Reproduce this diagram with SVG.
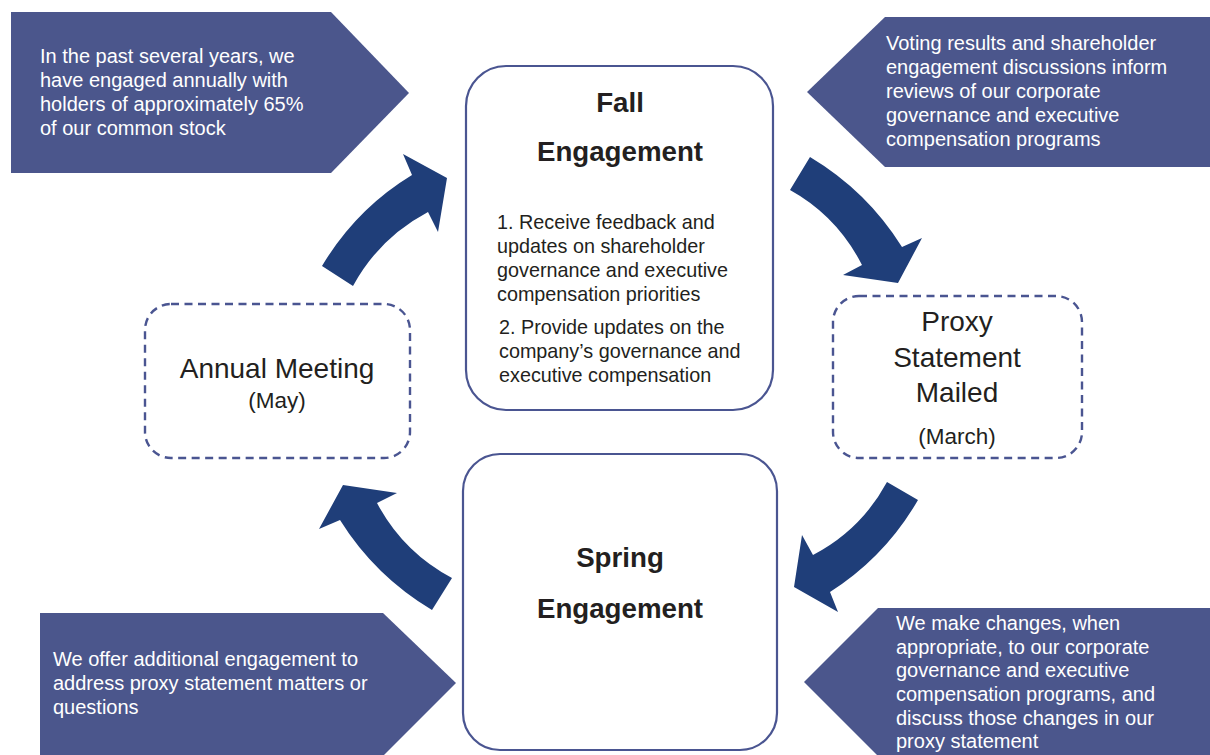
<svg xmlns="http://www.w3.org/2000/svg" width="1210" height="755" viewBox="0 0 1210 755">
  <style>
    .callout { fill: #4b568c; }
    .callout-text { fill: #ffffff; font-family: "Liberation Sans", Arial, sans-serif; font-size: 20px; }
    .stage { fill: #ffffff; stroke: #4a5591; stroke-width: 2.2; }
    .milestone { fill: #ffffff; stroke: #4a5591; stroke-width: 2.4; stroke-dasharray: 8 5.5; }
    .title { fill: #231f20; font-family: "Liberation Sans", Arial, sans-serif; font-weight: bold; font-size: 27.7px; text-anchor: middle; }
    .body { fill: #231f20; font-family: "Liberation Sans", Arial, sans-serif; font-size: 19.8px; }
    .label { fill: #231f20; font-family: "Liberation Sans", Arial, sans-serif; font-size: 28px; text-anchor: middle; }
    .sub { fill: #231f20; font-family: "Liberation Sans", Arial, sans-serif; font-size: 22.5px; text-anchor: middle; }
    .cycle-arrow { fill: #1f3e79; }
  </style>
  <rect width="1210" height="755" fill="#ffffff"/>

  <!-- side notes -->
  <g id="note-top-left">
    <polygon class="callout" points="11,12 331,12 409,93 331,173 11,173"/>
    <text class="callout-text" x="40" y="63">In the past several years, we</text>
    <text class="callout-text" x="40" y="87">have engaged annually with</text>
    <text class="callout-text" x="40" y="111">holders of approximately 65%</text>
    <text class="callout-text" x="40" y="135">of our common stock</text>
  </g>
  <g id="note-top-right">
    <polygon class="callout" points="807,92 885,17 1210,17 1210,167 885,167"/>
    <text class="callout-text" x="886" y="50">Voting results and shareholder</text>
    <text class="callout-text" x="886" y="74">engagement discussions inform</text>
    <text class="callout-text" x="886" y="98">reviews of our corporate</text>
    <text class="callout-text" x="886" y="122">governance and executive</text>
    <text class="callout-text" x="886" y="146">compensation programs</text>
  </g>
  <g id="note-bottom-left">
    <polygon class="callout" points="40,613 383,613 456,683 383,756 40,756"/>
    <text class="callout-text" x="53" y="666">We offer additional engagement to</text>
    <text class="callout-text" x="53" y="690">address proxy statement matters or</text>
    <text class="callout-text" x="53" y="714">questions</text>
  </g>
  <g id="note-bottom-right">
    <polygon class="callout" points="804,682 878,608 1210,608 1210,760 882,760"/>
    <text class="callout-text" x="896" y="630">We make changes, when</text>
    <text class="callout-text" x="896" y="654">appropriate, to our corporate</text>
    <text class="callout-text" x="896" y="677">governance and executive</text>
    <text class="callout-text" x="896" y="701">compensation programs, and</text>
    <text class="callout-text" x="896" y="725">discuss those changes in our</text>
    <text class="callout-text" x="896" y="748">proxy statement</text>
  </g>

  <!-- cycle arrows -->
  <g id="connectors">
    <path class="cycle-arrow" d="M322,266 Q356,209 412,175 L403,154 L447,178 L438,232 L428,212 Q379,238 353,286 Z"/>
    <path class="cycle-arrow" d="M810,157 Q867,191 902,247 L922,238 L898,283 L843,275 L862,265 Q837,216 790,190 Z"/>
    <path class="cycle-arrow" d="M887,482 Q861,530 813,555 L802,535 L794,587 L838,612 L830,592 Q885,557 918,500 Z"/>
    <path class="cycle-arrow" d="M452,578 Q403,552 377,503 L397,493 L343,485 L319,529 L340,520 Q375,576 432,610 Z"/>
  </g>

  <!-- engagement stages -->
  <g id="fall-engagement">
    <rect class="stage" x="466" y="66" width="307" height="344" rx="40"/>
    <text class="title" x="620" y="112">Fall</text>
    <text class="title" x="620" y="161">Engagement</text>
    <text class="body" x="497" y="229">1. Receive feedback and</text>
    <text class="body" x="497" y="253">updates on shareholder</text>
    <text class="body" x="497" y="277">governance and executive</text>
    <text class="body" x="497" y="301">compensation priorities</text>
    <text class="body" x="499" y="334">2. Provide updates on the</text>
    <text class="body" x="499" y="358">company’s governance and</text>
    <text class="body" x="499" y="382">executive compensation</text>
  </g>
  <g id="spring-engagement">
    <rect class="stage" x="463" y="454" width="314" height="296" rx="37"/>
    <text class="title" x="620" y="567">Spring</text>
    <text class="title" x="620" y="618">Engagement</text>
  </g>

  <!-- milestones -->
  <g id="annual-meeting">
    <rect class="milestone" x="145" y="304" width="265" height="154" rx="26"/>
    <text class="label" x="277" y="378">Annual Meeting</text>
    <text class="sub" x="277" y="408">(May)</text>
  </g>
  <g id="proxy-mailed">
    <rect class="milestone" x="833" y="296" width="249" height="162" rx="26"/>
    <text class="label" x="957" y="331">Proxy</text>
    <text class="label" x="957" y="367">Statement</text>
    <text class="label" x="957" y="402">Mailed</text>
    <text class="sub" x="957" y="444">(March)</text>
  </g>
</svg>
